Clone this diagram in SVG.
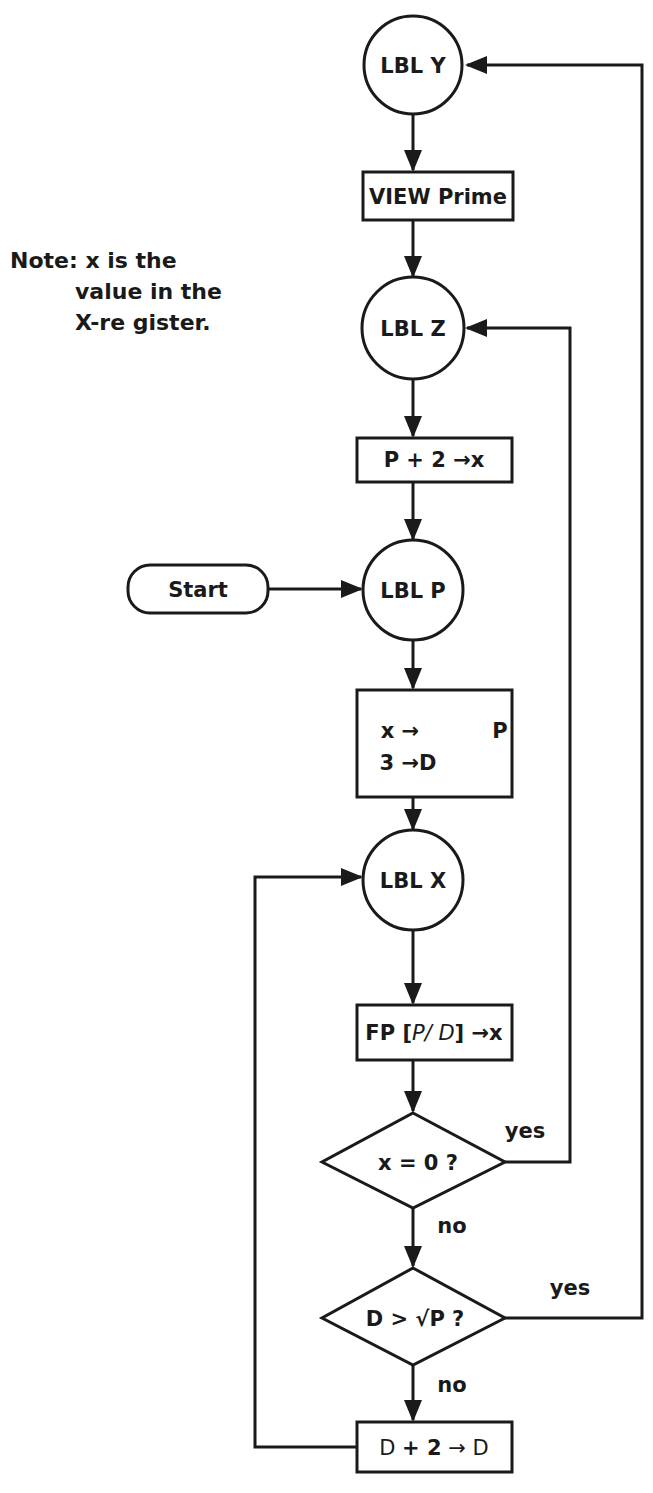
<svg xmlns="http://www.w3.org/2000/svg" width="653" height="1493" viewBox="0 0 653 1493">
<style>
.s{fill:#fff;stroke:#1a1a1a;stroke-width:3}
.t{font-family:"DejaVu Sans",sans-serif;font-weight:bold;font-size:21px;fill:#1a1a1a;text-anchor:middle}
.n{font-family:"DejaVu Sans",sans-serif;font-weight:bold;font-size:22px;fill:#1a1a1a}
.c{fill:none;stroke:#1a1a1a;stroke-width:3}
</style>
<defs>
<marker id="b" markerWidth="22" markerHeight="22" refX="20" refY="11" orient="auto" markerUnits="userSpaceOnUse" viewBox="0 0 22 22"><path d="M0,2L22,11L0,20z" fill="#1a1a1a"/></marker></defs>
<g id="connectors">
<path class="c" d="M413,114V170" marker-end="url(#b)"/>
<path class="c" d="M413,220V276" marker-end="url(#b)"/>
<path class="c" d="M413,379V436" marker-end="url(#b)"/>
<path class="c" d="M413,482V539" marker-end="url(#b)"/>
<path class="c" d="M268,589H361" marker-end="url(#b)"/>
<path class="c" d="M413,640V688" marker-end="url(#b)"/>
<path class="c" d="M413,797V829" marker-end="url(#b)"/>
<path class="c" d="M413,930V1003" marker-end="url(#b)"/>
<path class="c" d="M413,1060V1111" marker-end="url(#b)"/>
<path class="c" d="M413,1208V1266" marker-end="url(#b)"/>
<path class="c" d="M413,1365V1420" marker-end="url(#b)"/>
<path class="c" d="M357,1447H255V877H361" marker-end="url(#b)"/>
<path class="c" d="M505,1162H570V328H467" marker-end="url(#b)"/>
<path class="c" d="M505,1318H642V65H467" marker-end="url(#b)"/>
</g>
<g id="note"><text class="n" x="10" y="268">Note: x is the</text><text class="n" x="75" y="299">value in the</text><text class="n" x="75" y="330">X-re gister.</text></g>
<g id="lblY"><circle class="s" cx="413" cy="65" r="49"/><text class="t" x="413" y="73">LBL Y</text></g>
<g id="view"><rect class="s" x="363" y="172" width="150" height="48"/><text class="t" x="438" y="204">VIEW Prime</text></g>
<g id="lblZ"><circle class="s" cx="413" cy="328" r="51"/><text class="t" x="413" y="336">LBL Z</text></g>
<g id="p2"><rect class="s" x="357" y="438" width="155" height="44"/><text class="t" x="434" y="467">P + 2  →x</text></g>
<g id="start"><rect class="s" x="128" y="565" width="140" height="48" rx="22"/><text class="t" x="198" y="597">Start</text></g>
<g id="lblP"><circle class="s" cx="413" cy="590" r="50"/><text class="t" x="413" y="598">LBL P</text></g>
<g id="xp"><rect class="s" x="357" y="690" width="155" height="107"/><text class="t" x="400" y="738">x →</text><text class="t" x="500" y="738">P</text><text class="t" x="408" y="770">3 →D</text></g>
<g id="lblX"><circle class="s" cx="413" cy="880" r="50"/><text class="t" x="413" y="888">LBL X</text></g>
<g id="fp"><rect class="s" x="357" y="1005" width="155" height="55"/><text class="t" x="434" y="1040">FP [<tspan font-weight="normal" font-style="italic">P/ D</tspan>]  →x</text></g>
<g id="d1"><path class="s" d="M413,1113L505,1162L413,1208L322,1162Z"/><text class="t" x="418" y="1170">x = 0 ?</text></g>
<text class="t" x="525" y="1138">yes</text>
<text class="t" x="452" y="1233">no</text>
<g id="d2"><path class="s" d="M413,1268L505,1318L413,1365L322,1318Z"/><text class="t" x="415" y="1326">D &gt; √P ?</text></g>
<text class="t" x="570" y="1295">yes</text>
<text class="t" x="452" y="1392">no</text>
<g id="d2box"><rect class="s" x="357" y="1422" width="155" height="50"/><text class="t" x="434" y="1455"><tspan font-weight="normal">D </tspan>+ 2<tspan font-weight="normal"> → D</tspan></text></g>
</svg>
